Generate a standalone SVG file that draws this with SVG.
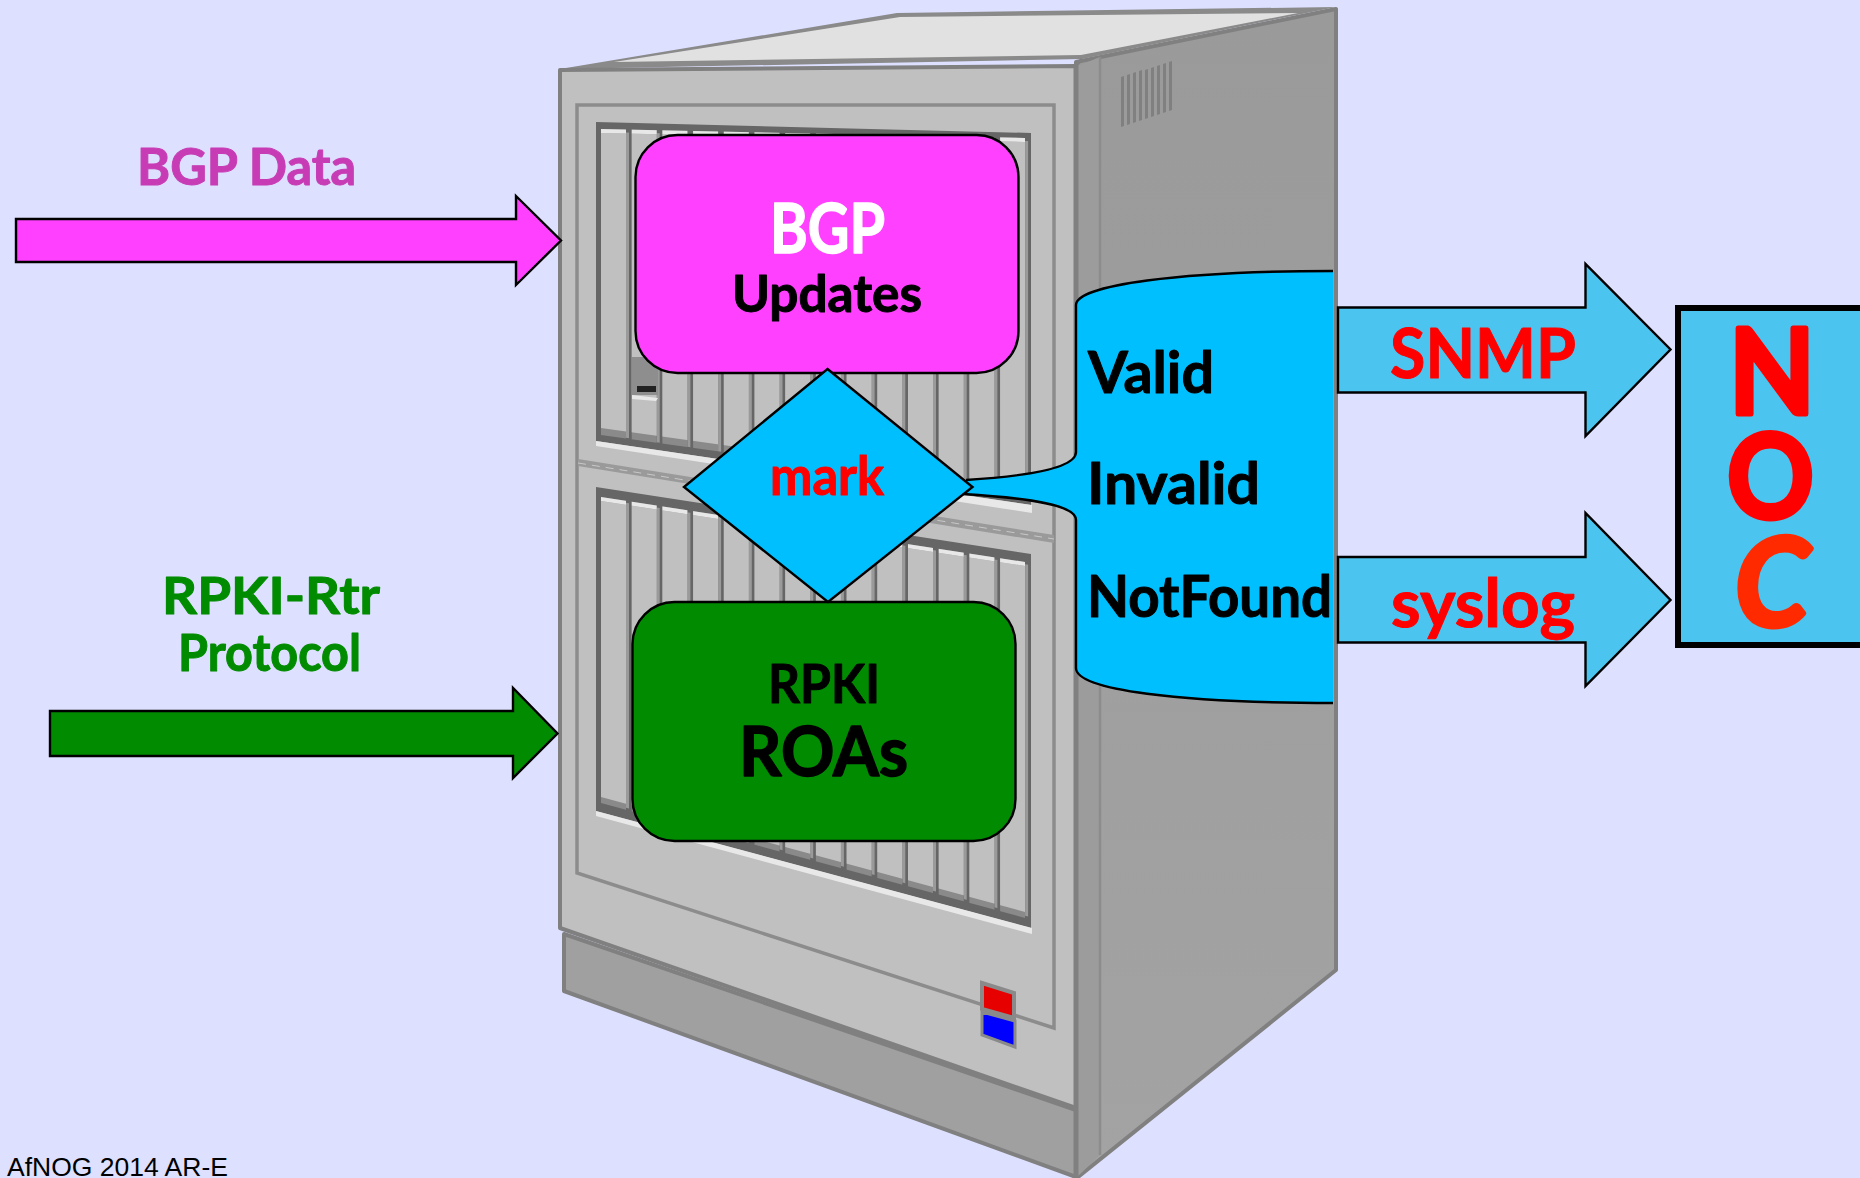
<svg xmlns="http://www.w3.org/2000/svg" width="1860" height="1178" viewBox="0 0 1860 1178">
<style>
.t{font-family:"Lato","Noto Sans","DejaVu Sans",sans-serif;font-weight:700;stroke-linejoin:round;paint-order:stroke}
.m{text-anchor:middle}
.edge{stroke:#808080;stroke-width:4;stroke-linejoin:round}
.frame{fill:none;stroke:#8c8c8c;stroke-width:3.5}
.arrow{stroke:#000;stroke-width:2.4;stroke-linejoin:miter}
.box{stroke:#000;stroke-width:2.4}
.sky{fill:#4bc5ef}
.body{fill:#c0c0c0}.dark{fill:#666}.cap{fill:#e8e8e8}.cham{fill:#8a8a8a}.band{fill:#9a9a9a}
</style>
<defs>
<linearGradient id="side" x1="0" y1="0" x2="0" y2="1"><stop offset="0" stop-color="#9a9a9a"/><stop offset="1" stop-color="#a3a3a3"/></linearGradient>
<clipPath id="cols">
<rect x="601" y="0" width="25" height="1178"/><rect x="631.7" y="0" width="25" height="1178"/><rect x="662.4" y="0" width="25" height="1178"/><rect x="693.1" y="0" width="25" height="1178"/><rect x="723.8" y="0" width="25" height="1178"/><rect x="754.5" y="0" width="25" height="1178"/><rect x="785.2" y="0" width="25" height="1178"/><rect x="815.9" y="0" width="25" height="1178"/><rect x="846.6" y="0" width="25" height="1178"/><rect x="877.3" y="0" width="25" height="1178"/><rect x="908" y="0" width="25" height="1178"/><rect x="938.7" y="0" width="25" height="1178"/><rect x="969.4" y="0" width="25" height="1178"/><rect x="1000.1" y="0" width="25" height="1178"/>
</clipPath>
<clipPath id="bands">
<rect x="626" y="0" width="3" height="1178"/><rect x="656.7" y="0" width="3" height="1178"/><rect x="687.4" y="0" width="3" height="1178"/><rect x="718.1" y="0" width="3" height="1178"/><rect x="748.8" y="0" width="3" height="1178"/><rect x="779.5" y="0" width="3" height="1178"/><rect x="810.2" y="0" width="3" height="1178"/><rect x="840.9" y="0" width="3" height="1178"/><rect x="871.6" y="0" width="3" height="1178"/><rect x="902.3" y="0" width="3" height="1178"/><rect x="933" y="0" width="3" height="1178"/><rect x="963.7" y="0" width="3" height="1178"/><rect x="994.4" y="0" width="3" height="1178"/><rect x="1025.1" y="0" width="3" height="1178"/>
</clipPath>
</defs>
<rect width="1860" height="1178" fill="#dde0ff"/>

<g id="cabinet">
<polygon points="564,934 1076,1110 1076,1177 564,991" fill="#a0a0a0" class="edge"/>
<polygon points="1076,62 1336,9 1336,970 1078,1177 1076,1177" fill="url(#side)" class="edge"/>
<polygon points="1078,66 1100,57 1100,1155 1078,1176" fill="#9c9c9c"/>
<line x1="1100" y1="57" x2="1100" y2="1155" stroke="#8c8c8c" stroke-width="2.5"/>
<polygon points="560,69 897,13 1336,7 1082,59" fill="#8a8a8a"/>
<polygon points="614,62 900,17 1298,13 1081,55" fill="#e1e1e1"/>
<polygon points="560,70 1076,66 1076,1108 560,928" fill="#c0c0c0" class="edge"/>
<line x1="1076" y1="66" x2="1076" y2="1177" stroke="#808080" stroke-width="5"/>
<line x1="1082" y1="59" x2="1076" y2="66" stroke="#808080" stroke-width="3"/>
<polygon points="577,105 1054,105 1054,1028 577,873" class="frame"/>

<polygon points="578,459 1054,535 1054,543 578,466" fill="#9a9a9a"/>
<line x1="578" y1="463" x2="1054" y2="539" stroke="#c8c8c8" stroke-width="1" stroke-dasharray="8 6"/>

<polygon points="596,122 1031,133 1031,505 596,441" class="dark"/>
<g clip-path="url(#bands)"><polygon points="601,132 1030,141 1030,497 601,434" class="band"/></g>
<g clip-path="url(#cols)">
<polygon points="601,129 1025,138 1025,494 601,435" class="cham"/>
<polygon points="601,133 1025,142 1025,487 601,428" class="body"/>
<polygon points="601,129 1025,138 1025,142 601,133" class="cap"/>
</g>
<polygon points="596,441 1032,505 1032,513 596,446" class="cap"/>
<rect x="632" y="357" width="26" height="38" fill="#8e8e8e"/>
<rect x="637" y="386" width="19" height="6" fill="#222"/>
<polygon points="632,395 658,398 656,401 632,399" class="cap"/>

<polygon points="596,487 1031,554 1031,928 596,811" class="dark"/>
<g clip-path="url(#bands)"><polygon points="601,499 1030,565 1030,917 601,801" class="band"/></g>
<g clip-path="url(#cols)">
<polygon points="601,497 1025,562 1025,918 601,803" class="cham"/>
<polygon points="601,501 1025,566 1025,912 601,797" class="body"/>
<polygon points="601,497 1025,562 1025,566 601,501" class="cap"/>
</g>
<polygon points="596,811 1032,928 1032,934 596,816" class="cap"/>

<polygon points="1121,77 1124,76 1124,126 1121,127" fill="#808080"/>
<polygon points="1127,75 1130,74 1130,124 1127,125" fill="#808080"/>
<polygon points="1133,73 1136,72 1136,122 1133,123" fill="#808080"/>
<polygon points="1139,71 1142,70 1142,120 1139,121" fill="#808080"/>
<polygon points="1145,70 1148,69 1148,118 1145,119" fill="#808080"/>
<polygon points="1151,68 1154,67 1154,116 1151,117" fill="#808080"/>
<polygon points="1157,66 1160,65 1160,114 1157,115" fill="#808080"/>
<polygon points="1163,64 1166,63 1166,112 1163,113" fill="#808080"/>
<polygon points="1169,62 1172,61 1172,110 1169,111" fill="#808080"/>

<polygon points="982,1012 1015,1021 1015,1047 982,1035" fill="#0000ff" stroke="#8a8a8a" stroke-width="3"/>
<polygon points="982,983 1014,993 1014,1018 982,1009" fill="#e60000" stroke="#8a8a8a" stroke-width="4"/>
</g>

<g id="connectors">
<polygon class="arrow" fill="#ff40ff" points="16,219 516,219 516,196 561,240.5 516,285 516,262 16,262"/>
<polygon class="arrow" fill="#008b00" points="50,711 513,711 513,688 557.5,733.5 513,778 513,756 50,756"/>
<polygon class="arrow sky" points="1338,307.5 1585.5,307.5 1585.5,264 1670.5,349.5 1585.5,436 1585.5,392.5 1338,392.5"/>
<polygon class="arrow sky" points="1338,557 1585.5,557 1585.5,513 1670.5,600 1585.5,686 1585.5,642.5 1338,642.5"/>
</g>

<g id="bgp-data-label"><text class="t" x="137" y="185" font-size="51" fill="#c73cb5" stroke="#c73cb5" stroke-width="1" textLength="219" lengthAdjust="spacingAndGlyphs">BGP Data</text></g>
<g id="rpki-rtr-label">
<text class="t" x="162" y="614" font-size="51" fill="#008b00" stroke="#008b00" stroke-width="1" textLength="218" lengthAdjust="spacingAndGlyphs">RPKI-Rtr</text>
<text class="t" x="178" y="671" font-size="51" fill="#008b00" stroke="#008b00" stroke-width="1" textLength="183" lengthAdjust="spacingAndGlyphs">Protocol</text>
</g>

<g id="validity">
<path d="M1333 271C1180 271 1076 285 1076 305L1076 452C1076 468 1030 476 966 480L950 487L963 494C1030 498 1076 505 1076 520L1076 668C1076 690 1180 703 1333 703Z" fill="#00bfff"/>
<path d="M1333 271C1180 271 1076 285 1076 305L1076 452C1076 468 1030 476 966 480M963 494C1030 498 1076 505 1076 520L1076 668C1076 690 1180 703 1333 703" fill="none" stroke="#000" stroke-width="2.4"/>
<text class="t" x="1088" y="393" font-size="57" fill="#000" stroke="#000" stroke-width="1" textLength="126" lengthAdjust="spacingAndGlyphs">Valid</text>
<text class="t" x="1087" y="504" font-size="57" fill="#000" stroke="#000" stroke-width="1" textLength="173" lengthAdjust="spacingAndGlyphs">Invalid</text>
<text class="t" x="1087" y="617" font-size="57" fill="#000" stroke="#000" stroke-width="1" textLength="245" lengthAdjust="spacingAndGlyphs">NotFound</text>
</g>

<g id="bgp-updates">
<rect class="box" x="635.5" y="135" width="383" height="238" rx="42" ry="42" fill="#ff40ff"/>
<text class="t" x="770" y="252.5" font-size="69" fill="#fff" stroke="#fff" stroke-width="1.5" textLength="115" lengthAdjust="spacingAndGlyphs">BGP</text>
<text class="t" x="732" y="312" font-size="51" fill="#000" stroke="#000" stroke-width="1" textLength="190" lengthAdjust="spacingAndGlyphs">Updates</text>
</g>

<g id="rpki-roas">
<rect class="box" x="632.5" y="602" width="383" height="239" rx="42" ry="42" fill="#008b00"/>
<text class="t" x="768" y="703" font-size="53" fill="#000" stroke="#000" stroke-width="1" textLength="112" lengthAdjust="spacingAndGlyphs">RPKI</text>
<text class="t" x="739" y="776" font-size="68" fill="#000" stroke="#000" stroke-width="1.5" textLength="169" lengthAdjust="spacingAndGlyphs">ROAs</text>
</g>

<g id="mark">
<polygon class="box" points="827.5,369 972.5,487 828,602 684,487" fill="#00bfff" style="stroke-linejoin:miter"/>
<text class="t" x="770" y="494.5" font-size="53" fill="#ff0000" stroke="#ff0000" stroke-width="1" textLength="114" lengthAdjust="spacingAndGlyphs">mark</text>
</g>

<g id="snmp-label"><text class="t" x="1390" y="378" font-size="69" fill="#ff0000" stroke="#ff0000" stroke-width="1" textLength="186" lengthAdjust="spacingAndGlyphs">SNMP</text></g>
<g id="syslog-label"><text class="t" x="1391" y="627" font-size="67" fill="#ff0000" stroke="#ff0000" stroke-width="1" textLength="184" lengthAdjust="spacingAndGlyphs">syslog</text></g>

<g id="noc">
<rect class="sky" x="1678" y="308" width="190" height="337" stroke="#000" stroke-width="6"/>
<text class="t" x="1729" y="414" font-size="118" fill="#ff0000" stroke="#ff0000" stroke-width="5" textLength="86" lengthAdjust="spacingAndGlyphs">N</text>
<text class="t" x="1727" y="518" font-size="116" fill="#ff0000" stroke="#ff0000" stroke-width="5" textLength="87" lengthAdjust="spacingAndGlyphs">O</text>
<text class="t" x="1735" y="626" font-size="122" font-style="italic" fill="#ff2a00" stroke="#ff2a00" stroke-width="5" textLength="74" lengthAdjust="spacingAndGlyphs">C</text>
</g>

<text id="footer" x="7" y="1176" font-family="'Liberation Sans',Arial,sans-serif" font-size="26.5" fill="#000">AfNOG 2014 AR-E</text>
</svg>
